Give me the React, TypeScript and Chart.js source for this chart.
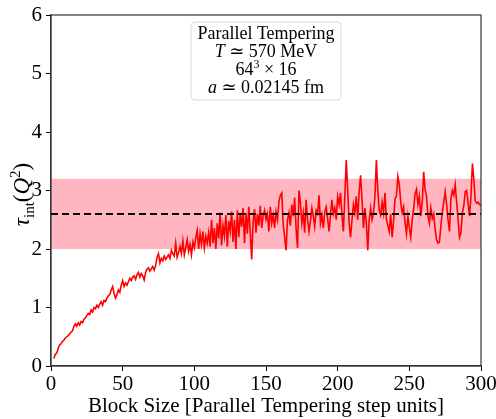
import React, { useEffect, useRef } from "react";
import { Chart, registerables } from "chart.js";

Chart.register(...registerables);

// ---- data ----
const blockStart = 2; // first block size shown
const tauValues: number[] = [
  0.13, 0.2, 0.22, 0.3, 0.36, 0.38, 0.42, 0.44, 0.48,
  0.5, 0.52, 0.55, 0.58, 0.6, 0.68, 0.72, 0.68, 0.74, 0.7,
  0.76, 0.74, 0.8, 0.82, 0.86, 0.9, 0.88, 0.96, 0.92, 1.0,
  0.98, 1.04, 1.0, 1.06, 1.1, 1.04, 1.12, 1.1, 1.16, 1.2,
  1.22, 1.3, 1.36, 1.24, 1.16, 1.22, 1.3, 1.26, 1.38, 1.46,
  1.36, 1.42, 1.38, 1.44, 1.5, 1.46, 1.52, 1.54, 1.48, 1.56,
  1.6, 1.52, 1.58, 1.54, 1.47, 1.6, 1.66, 1.68, 1.62, 1.66,
  1.7, 1.64, 1.72, 1.86, 1.92, 1.76, 1.84, 1.8, 1.88, 1.82,
  1.86, 1.9, 1.84, 1.98, 1.92, 1.88, 2.1, 1.86, 1.94, 2.04,
  1.92, 2.14, 1.9, 2.02, 2.16, 1.96, 2.08, 1.9, 2.12, 2.02,
  2.2, 2.32, 2.0, 2.26, 2.08, 2.3, 2.02, 2.22, 2.1, 2.28,
  2.04, 2.5, 2.1, 2.36, 2.0, 2.44, 2.18, 2.62, 2.06, 2.4,
  2.22, 2.58, 2.04, 2.48, 2.3, 2.64, 2.12, 2.5, 2.0, 2.66,
  2.2, 2.58, 2.38, 2.7, 2.1, 2.62, 2.26, 2.72, 2.3, 1.82,
  2.46, 2.68, 2.28, 2.6, 2.4, 2.74, 2.36, 2.56, 2.66, 2.5,
  2.6, 2.3, 2.72, 2.44, 2.58, 2.36, 2.64, 2.5, 2.8, 2.92,
  2.96, 2.42, 2.2, 1.98, 2.5, 2.62, 2.4, 2.76, 2.56, 2.88,
  2.34, 2.02, 3.0, 2.8, 2.44, 2.62, 2.28, 2.84, 2.5, 2.3,
  2.48, 2.7, 2.56, 2.38, 2.66, 2.6, 2.92, 2.44, 2.58, 2.36,
  2.64, 2.72, 2.52, 2.3, 2.58, 2.84, 2.6, 2.7, 2.5, 2.9,
  2.76, 2.96, 2.58, 2.3, 2.9, 3.52, 3.0, 2.44, 2.2, 2.5,
  2.76, 2.62, 2.9, 2.5, 2.98, 3.26, 2.84, 2.36, 2.7, 2.46,
  1.98, 2.5, 2.7, 2.5, 2.62, 2.9, 3.52, 3.0, 2.66, 2.58,
  2.8, 2.62, 2.96, 2.5, 2.4, 2.3, 2.6, 2.2, 2.48, 2.86,
  2.9, 3.24, 3.1, 2.8, 2.62, 2.72, 2.46, 2.26, 2.56, 2.36,
  2.2, 2.5, 2.68, 2.94, 3.02, 2.76, 2.9, 2.56, 2.8, 3.32,
  3.02, 2.9, 2.56, 2.44, 2.7, 2.52, 2.6, 2.34, 2.16, 2.1,
  2.12, 2.4, 2.62, 2.8, 2.98, 2.76, 2.5, 2.3, 2.86, 3.0,
  2.92, 3.1, 2.8, 2.5, 2.2, 2.28, 2.62, 2.74, 2.98, 3.0,
  2.78, 2.56, 2.9, 3.46, 3.2, 2.82, 2.78, 2.8, 2.76, 2.74,
];
const meanTau = 2.6;
const bandLow = 2.0;
const bandHigh = 3.2;
const xRange = [0, 300];
const yRange = [0, 6];
const xTicks = [0, 50, 100, 150, 200, 250, 300];
const yTicks = [0, 1, 2, 3, 4, 5, 6];
const xTitle = "Block Size [Parallel Tempering step units]";

type Seg = { t: string; italic?: boolean; small?: boolean; dy?: number };
const infoLines: Seg[][] = [
  [{ t: "Parallel Tempering" }],
  [{ t: "T", italic: true }, { t: " ≃ 570 MeV" }],
  [{ t: "64" }, { t: "3", small: true, dy: -7 }, { t: " × 16" }],
  [{ t: "a", italic: true }, { t: " ≃ 0.02145 fm" }],
];

const FAMILY = "'Liberation Serif', 'DejaVu Serif', serif";

function drawSegs(ctx: CanvasRenderingContext2D, segs: Seg[], cx: number, y: number, size: number, smallSize: number) {
  const fontOf = (s: Seg) => `${s.italic ? "italic " : ""}${s.small ? smallSize : size}px ${FAMILY}`;
  let total = 0;
  const widths = segs.map((s) => {
    ctx.font = fontOf(s);
    const w = ctx.measureText(s.t).width;
    total += w;
    return w;
  });
  let x = cx - total / 2;
  ctx.textAlign = "left";
  ctx.textBaseline = "alphabetic";
  segs.forEach((s, i) => {
    ctx.font = fontOf(s);
    ctx.fillText(s.t, x, y + (s.dy || 0));
    x += widths[i];
  });
}

const bandPlugin = {
  id: "band",
  beforeDatasetsDraw(chart: any) {
    const { ctx, chartArea, scales } = chart;
    const yTop = scales.y.getPixelForValue(bandHigh);
    const yBot = scales.y.getPixelForValue(bandLow);
    ctx.save();
    ctx.fillStyle = "#ffb6c1";
    ctx.fillRect(chartArea.left, yTop, chartArea.right - chartArea.left, yBot - yTop);
    ctx.restore();
  },
};

const overlayPlugin = {
  id: "overlay",
  afterDraw(chart: any) {
    const { ctx, chartArea } = chart;
    ctx.save();
    // frame
    ctx.strokeStyle = "#333";
    ctx.lineWidth = 1.2;
    ctx.strokeRect(chartArea.left, chartArea.top, chartArea.right - chartArea.left, chartArea.bottom - chartArea.top);

    // info box
    const cx = (chartArea.left + chartArea.right) / 2;
    const bw = 150, bh = 78, bx = cx - bw / 2, by = 22;
    ctx.beginPath();
    (ctx as any).roundRect(bx, by, bw, bh, 4);
    ctx.fillStyle = "rgba(255,255,255,0.85)";
    ctx.fill();
    ctx.strokeStyle = "#d8d8d8";
    ctx.lineWidth = 1;
    ctx.stroke();
    ctx.fillStyle = "#000";
    infoLines.forEach((line, i) => drawSegs(ctx, line, cx, by + 17 + i * 18, 18, 12));

    // y title: tau_int(Q^2)
    ctx.translate(22, (chartArea.top + chartArea.bottom) / 2 + 4);
    ctx.rotate(-Math.PI / 2);
    const segs: Seg[] = [
      { t: "τ", italic: true },
      { t: "int", small: true, dy: 5 },
      { t: "(" },
      { t: "Q", italic: true },
      { t: "2", small: true, dy: -9 },
      { t: ")" },
    ];
    drawSegs(ctx, segs, 0, 7, 23, 15);
    ctx.restore();
  },
};

export default function App() {
  const ref = useRef<HTMLCanvasElement>(null);
  useEffect(() => {
    document.body.style.margin = "0";
    const pts = tauValues.map((v, i) => ({ x: blockStart + i, y: v }));
    const tickFont = { family: FAMILY, size: 21 };
    const chart = new Chart(ref.current as HTMLCanvasElement, {
      type: "line",
      data: {
        datasets: [
          {
            data: [
              { x: xRange[0], y: meanTau },
              { x: xRange[1], y: meanTau },
            ],
            borderColor: "#000",
            borderWidth: 2,
            borderDash: [7, 4],
            pointRadius: 0,
          },
          {
            data: pts,
            borderColor: "#ff0000",
            borderWidth: 1.6,
            pointRadius: 0,
            tension: 0,
          },
        ],
      },
      options: {
        animation: false,
        responsive: false,
        layout: { padding: { top: 15, right: 15, left: 0, bottom: 0 } },
        plugins: { legend: { display: false }, tooltip: { enabled: false } },
        scales: {
          x: {
            type: "linear",
            min: xRange[0],
            max: xRange[1],
            afterBuildTicks: (s: any) => {
              s.ticks = xTicks.map((v) => ({ value: v }));
            },
            ticks: { font: tickFont, color: "#000", padding: 1, maxRotation: 0, autoSkip: false },
            grid: { drawOnChartArea: false, tickLength: 5, color: "#000" },
            border: { color: "#333", width: 1.2 },
            title: { display: true, text: xTitle, font: { family: FAMILY, size: 21 }, color: "#000", padding: { top: 0, bottom: 0 } },
            afterFit: (s: any) => {
              s.height = 53;
              s.paddingRight = 0;
              s.paddingLeft = 0;
            },
          },
          y: {
            type: "linear",
            min: yRange[0],
            max: yRange[1],
            afterBuildTicks: (s: any) => {
              s.ticks = yTicks.map((v) => ({ value: v }));
            },
            ticks: { font: tickFont, color: "#000", padding: 4, autoSkip: false },
            grid: { drawOnChartArea: false, tickLength: 5, color: "#000" },
            border: { color: "#333", width: 1.2 },
            afterFit: (s: any) => {
              s.width = 51;
              s.paddingTop = 0;
              s.paddingBottom = 0;
            },
          },
        },
      },
      plugins: [bandPlugin, overlayPlugin],
    });
    return () => chart.destroy();
  }, []);
  return (
    <div style={{ position: "absolute", left: 0, top: 0, width: 496, height: 419 }}>
      <canvas ref={ref} width={496} height={419} style={{ width: 496, height: 419, display: "block" }} />
    </div>
  );
}
